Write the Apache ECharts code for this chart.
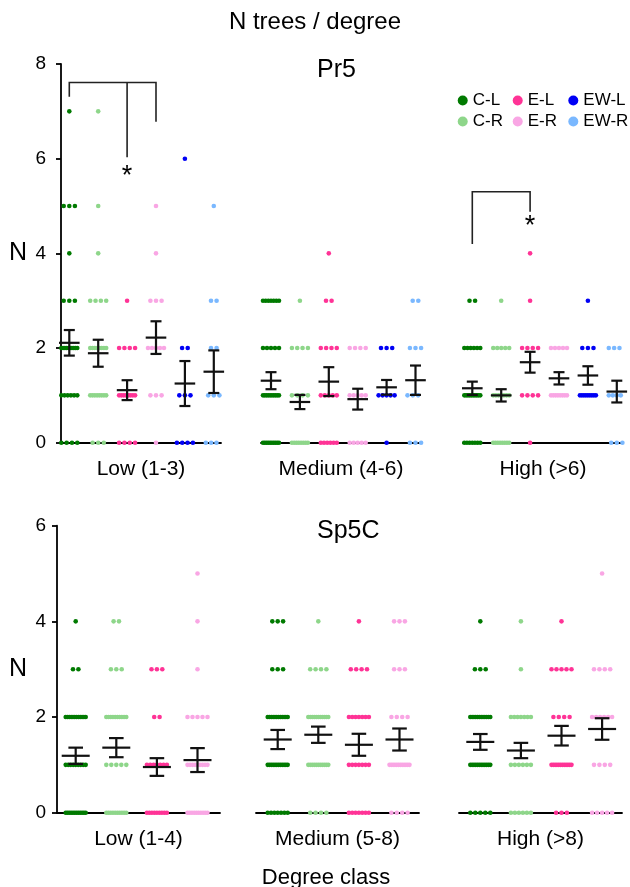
<!DOCTYPE html>
<html><head><meta charset="utf-8">
<script src="https://cdn.jsdelivr.net/npm/echarts@6/dist/echarts.min.js"></script>
<style>html,body{margin:0;padding:0;background:#fff}#c{width:630px;height:887px}</style>
</head><body><div id="c"></div>
<script>
// ---------- DATA ----------
const seriesNames = ['C-L','C-R','E-L','E-R','EW-L','EW-R'];
const seriesColors = ['#007a00','#8ed68a','#ff3396','#f9a6e4','#0000f5','#7ab8ff'];
const pr5Groups = ['Low (1-3)','Medium (4-6)','High (>6)'];
const sp5cGroups = ['Low (1-4)','Medium (5-8)','High (>8)'];
const pr5Ticks = [0,2,4,6,8];
const sp5cTicks = [0,2,4,6];

// number of trees at N = 0,1,2,3,...  for [Low, Medium, High]
const pr5_CL  = [[4,6,10,3,1,3,0,1],[10,10,5,7],[7,10,6,2]];
const pr5_CR  = [[3,8,8,4,1,1,0,1],[8,4,4,1],[8,7,5,1]];
const pr5_EL  = [[4,8,4,1],[6,5,4,2,1],[1,4,4,1,1]];
const pr5_ER  = [[1,3,5,3,1,1],[5,5,4],[0,8,5]];
const pr5_EWL = [[4,3,2,0,0,0,1],[1,5,3],[0,9,3,1]];
const pr5_EWR = [[4,3,2,2,0,1],[3,4,3,2],[3,5,4]];

const sp5c_CL = [[12,9,12,2,1],[7,12,12,3,3],[5,12,12,3,1]];
const sp5c_CR = [[10,5,10,3,2],[4,11,11,4,1],[6,6,7,1,1]];
const sp5c_EL = [[9,7,2,3],[7,7,7,4,1],[3,12,4,5,1]];
const sp5c_ER = [[10,9,5,1,1,1],[4,12,4,3,3],[5,4,6,4,0,1]];

// mean and SE per group (rows) and series (columns)
const pr5Mean = [[2.11,1.89,1.11,2.22,1.25,1.50],[1.31,0.86,1.29,0.92,1.17,1.32],[1.15,1.00,1.70,1.36,1.42,1.08]];
const pr5SE   = [[0.27,0.285,0.21,0.345,0.475,0.45],[0.18,0.15,0.305,0.22,0.155,0.31],[0.14,0.13,0.22,0.13,0.195,0.23]];
const sp5cMean = [[1.19,1.36,0.955,1.10],[1.53,1.63,1.42,1.53],[1.48,1.30,1.61,1.75]];
const sp5cSE   = [[0.17,0.20,0.185,0.25],[0.20,0.17,0.23,0.23],[0.165,0.16,0.205,0.225]];

// significance brackets (Pr5): group, from, to, via, topY, fromEndY, toEndY, viaEndY, starY
const pr5Brackets = [
  [0, 0, 3, 2, 7.61, 7.31, 6.78, 6.03, 5.62],
  [2, 0, 2, -1, 5.30, 4.20, 4.88, null, 4.57]
];

// ---------- LAYOUT ----------
const FONT = "'Liberation Sans', Arial, sans-serif";
const panels = [
  {name:'Pr5', groups:pr5Groups, ticks:pr5Ticks, counts:[pr5_CL,pr5_CR,pr5_EL,pr5_ER,pr5_EWL,pr5_EWR],
   mean:pr5Mean, se:pr5SE, top:64, height:378.7, lefts:[61,261,463], width:160, first:[8.3,10,9.3], step:28.9,
   axisOffset:6, maxW:16, s0:5.6, halfMean:10.3, halfCap:5.5},
  {name:'Sp5C', groups:sp5cGroups, ticks:sp5cTicks, counts:[sp5c_CL,sp5c_CR,sp5c_EL,sp5c_ER],
   mean:sp5cMean, se:sp5cSE, top:525.7, height:287, lefts:[57,256,459], width:163, first:[18.7,21.7,21.3], step:40.6,
   axisOffset:2, maxW:20, s0:5.4, halfMean:14, halfCap:7.3}
];

const grid = [], xAxis = [], yAxis = [], series = [];
let gi = 0;
panels.forEach((P, p) => {
  const yMin = P.ticks[0], yMax = P.ticks[P.ticks.length-1], yInt = P.ticks[1]-P.ticks[0];
  P.groups.forEach((gName, g) => {
    grid.push({left:P.lefts[g], top:P.top, width:P.width, height:P.height, containLabel:false});
    xAxis.push({gridIndex:gi, type:'value', min:0, max:P.width, position:'bottom', offset:10.6,
      axisLine:{show:true, lineStyle:{color:'#000', width:1.8}}, axisTick:{show:false}, axisLabel:{show:false},
      splitLine:{show:false}, name:gName, nameLocation:'middle', nameGap:5,
      nameTextStyle:{fontSize:21, color:'#000', fontFamily:FONT, verticalAlign:'top'}});
    const showY = g === 0;
    yAxis.push({gridIndex:gi, type:'value', min:yMin, max:yMax, interval:yInt, show:showY, offset:P.axisOffset,
      axisLine:{show:true, lineStyle:{color:'#000', width:1.8}},
      axisTick:{show:true, length:5, lineStyle:{color:'#000', width:1.8}},
      axisLabel:{fontSize:19, color:'#000', margin:9, fontFamily:FONT},
      splitLine:{show:false},
      name:'N', nameLocation:'middle', nameRotate:0, nameGap:28,
      nameTextStyle:{fontSize:25, color:'#000', fontFamily:FONT}});
    // dots
    P.counts.forEach((arr, s) => {
      const cx = P.first[g] + s*P.step;
      const pts = [];
      (arr[g] || []).forEach((n, v) => {
        if (!n) return;
        const sp = n > 1 ? Math.min(P.s0, P.maxW/(n-1)) : 0;
        for (let i=0;i<n;i++) pts.push([cx + (i-(n-1)/2)*sp, v]);
      });
      series.push({type:'scatter', name:seriesNames[s], xAxisIndex:gi, yAxisIndex:gi, data:pts,
        symbol:'circle', symbolSize:4.6, itemStyle:{color:seriesColors[s], opacity:1}, silent:true, z:2});
    });
    // error bars
    const eb = P.mean[g].map((m, s) => [P.first[g] + s*P.step, m, P.se[g][s]]);
    const hm = P.halfMean, hc = P.halfCap;
    series.push({type:'custom', xAxisIndex:gi, yAxisIndex:gi, data:eb, z:5, silent:true,
      renderItem:(params, api) => {
        const x = api.value(0), m = api.value(1), se = api.value(2);
        const pm = api.coord([x,m]), pt = api.coord([x,m+se]), pb = api.coord([x,m-se]);
        const st = {stroke:'#111', lineWidth:2.2};
        return {type:'group', children:[
          {type:'line', shape:{x1:pm[0]-hm,y1:pm[1],x2:pm[0]+hm,y2:pm[1]}, style:st},
          {type:'line', shape:{x1:pt[0],y1:pt[1],x2:pb[0],y2:pb[1]}, style:st},
          {type:'line', shape:{x1:pt[0]-hc,y1:pt[1],x2:pt[0]+hc,y2:pt[1]}, style:st},
          {type:'line', shape:{x1:pb[0]-hc,y1:pb[1],x2:pb[0]+hc,y2:pb[1]}, style:st}
        ]};
      }});
    // brackets
    if (p === 0) {
      pr5Brackets.filter(b => b[0] === g).forEach(b => {
        const xf = P.first[g] + b[1]*P.step, xt = P.first[g] + b[2]*P.step;
        const xv = b[3] >= 0 ? P.first[g] + b[3]*P.step : xt;
        series.push({type:'custom', xAxisIndex:gi, yAxisIndex:gi, data:[[xf, xt, xv, b[4], b[5], b[6], b[7] == null ? b[4] : b[7], b[8]]],
          z:6, silent:true, clip:false,
          renderItem:(params, api) => {
            const c = (x,y) => api.coord([x,y]);
            const st = {stroke:'#222', lineWidth:1.6, fill:null};
            const a = c(api.value(0), api.value(4)), t1 = c(api.value(0), api.value(3)),
                  t2 = c(api.value(1), api.value(3)), e = c(api.value(1), api.value(5));
            const v1 = c(api.value(2), api.value(3)), v2 = c(api.value(2), api.value(6));
            const sPos = c(api.value(2), api.value(7));
            return {type:'group', children:[
              {type:'polyline', shape:{points:[a,t1,t2,e]}, style:st},
              {type:'line', shape:{x1:v1[0],y1:v1[1],x2:v2[0],y2:v2[1]}, style:{stroke:'#222', lineWidth:1.6}},
              {type:'text', x:sPos[0], y:sPos[1], style:{text:'*', fontSize:27, fontFamily:FONT, fill:'#000',
                align:'center', verticalAlign:'middle'}}
            ]};
          }});
      });
    }
    gi++;
  });
});

const legendLefts = [457.7, 512.7, 568.3];
const legend = [0,1,2].map(k => ({
  data:[seriesNames[2*k], seriesNames[2*k+1]], orient:'vertical', left:legendLefts[k], top:92,
  itemWidth:10, itemHeight:10, itemGap:4, icon:'circle', padding:0, selectedMode:false,
  textStyle:{fontSize:17, color:'#000', fontFamily:FONT}
}));

const tStyle = (fs) => ({fontSize:fs, fontWeight:'normal', color:'#000', fontFamily:FONT});
const option = {
  animation:false,
  backgroundColor:'#fff',
  textStyle:{fontFamily:FONT},
  title:[
    {text:'N trees / degree', left:315, top:10, textAlign:'center', padding:0, textStyle:tStyle(24)},
    {text:panels[0].name, left:317, top:58, padding:0, textStyle:tStyle(25)},
    {text:panels[1].name, left:317, top:519, padding:0, textStyle:tStyle(25)},
    {text:'Degree class', left:326, top:867, textAlign:'center', padding:0, textStyle:tStyle(22)}
  ],
  legend, grid, xAxis, yAxis, series
};
echarts.init(document.getElementById('c'), null, {renderer:'canvas'}).setOption(option);
</script></body></html>
